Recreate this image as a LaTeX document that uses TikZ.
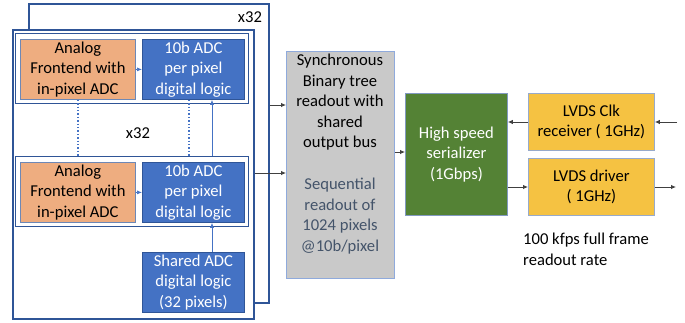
\documentclass[tikz,border=0pt]{standalone}
\usepackage{fontspec}
\setmainfont{Carlito}
\usetikzlibrary{arrows.meta}
\definecolor{bfill}{HTML}{4472C4}
\definecolor{bdr}{HTML}{2F5597}
\definecolor{ofill}{HTML}{EEAD80}
\definecolor{gfill}{HTML}{C9C9C9}
\definecolor{gbdr}{HTML}{8FAADC}
\definecolor{grn}{HTML}{548235}
\definecolor{ylw}{HTML}{F5C242}
\definecolor{slate}{HTML}{44546A}
\definecolor{conn}{HTML}{404040}
\newcommand{\fs}{\fontsize{16.6}{20.5}\selectfont}
\tikzset{
  frame/.style={draw=bdr, line width=1.5pt, fill=white, anchor=north west, inner sep=0pt},
  blk/.style={anchor=north west, inner sep=0pt, align=center, font=\fs, line width=0.8pt},
  bluebox/.style={blk, fill=bfill, draw=bdr, text=white},
  orbox/.style={blk, fill=ofill, draw=bdr!70},
  arr/.style={draw=conn, line width=0.9pt, -{Latex[length=5pt,width=4.5pt]}},
  thinarr/.style={draw=bfill, line width=0.7pt, -{Latex[length=5pt,width=4pt]}},
  dotln/.style={draw=bfill, line width=1.2pt, dash pattern=on 1.4pt off 2pt},
  lbl/.style={font=\fs, inner sep=0pt}
}
\begin{document}
\begin{tikzpicture}[x=1pt,y=-1pt]
\useasboundingbox (0,0) rectangle (685,322);
% back and front frames
\node[frame, minimum width=240pt, minimum height=299pt] (back) at (28,3) {};
\node[frame, minimum width=241pt, minimum height=289pt] (front) at (12,29) {};
% rows
\node[frame, line width=1.2pt, minimum width=233pt, minimum height=70pt] (row1) at (15,33) {};
\node[frame, line width=1.2pt, minimum width=233pt, minimum height=70pt] (row2) at (15,156) {};
\node[orbox, minimum width=115pt, minimum height=60pt] (or1) at (20,39) {Analog\\Frontend with\\in-pixel ADC};
\node[bluebox, minimum width=102pt, minimum height=60pt] (bl1) at (142,39) {10b ADC\\per pixel\\digital logic};
\node[orbox, minimum width=115pt, minimum height=60pt] (or2) at (20,162) {Analog\\Frontend with\\in-pixel ADC};
\node[bluebox, minimum width=102pt, minimum height=60pt] (bl2) at (142,162) {10b ADC\\per pixel\\digital logic};
\node[bluebox, minimum width=102pt, minimum height=60pt] (sh) at (142,252) {Shared ADC\\digital logic\\(32 pixels)};
\node[lbl] (x32a) at (250,17) {x32};
\node[lbl] (x32b) at (138,133) {x32};
\draw[thinarr] (or1) -- (bl1);
\draw[thinarr] (or2) -- (bl2);
\draw[dotln] (or1.south) -- (row2.north -| or1.south);
\coordinate (dx) at (189,0);
\draw[dotln] (bl1.south -| dx) -- (row2.north -| dx);
\coordinate (sx) at (212,0);
\draw[thinarr] (sh.north -| sx) -- (bl2.south -| sx);
\draw[thinarr] (row2.north -| sx) -- (bl1.south -| sx);
% gray readout block
\node[blk, fill=gfill, draw=gbdr, minimum width=108pt, minimum height=227pt] (gray) at (286,51) {};
\node[lbl, align=center, anchor=north] (gtxt) at (340,54) {Synchronous\\Binary tree\\readout with\\shared\\output bus};
\node[lbl, align=center, anchor=north, text=slate] (gtxt2) at (340,178) {Sequential\\readout of\\1024 pixels\\@10b/pixel};
\draw[arr] (back.east |- 0,105) -- (gray.west |- 0,105);
\draw[arr] (front.east |- 0,173) -- (gray.west |- 0,173);
% serializer
\node[blk, fill=grn, draw=bdr!60, text=white, minimum width=102pt, minimum height=122pt] (ser) at (405,93) {High speed\\serializer\\(1Gbps)};
\draw[arr] (gray.east |- 0,152) -- (ser.west |- 0,152);
% LVDS
\node[blk, fill=ylw, draw=bdr!50, minimum width=126pt, minimum height=57pt] (clk) at (528,93) {LVDS Clk\\receiver ( 1GHz)};
\node[blk, fill=ylw, draw=bdr!50, minimum width=126pt, minimum height=57pt] (drv) at (528,158) {LVDS driver\\( 1GHz)};
\coordinate (cin) at (677,122);
\coordinate (dout) at (676,187);
\draw[arr] (cin) -- (clk.east |- cin);
\draw[arr] (clk.west |- cin) -- (ser.east |- cin);
\draw[arr] (ser.east |- dout) -- (drv.west |- dout);
\draw[arr] (drv.east |- dout) -- (dout);
\node[lbl, align=left, anchor=north west] (rate) at (523,233) {100 kfps full frame\\readout rate};
\end{tikzpicture}
\end{document}
